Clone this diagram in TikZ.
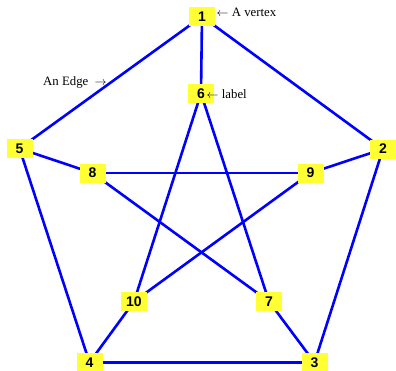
\documentclass[tikz,border=0pt]{standalone}
\usepackage{fontspec}
\setmainfont{Liberation Serif}
\setsansfont{Liberation Sans}
\usetikzlibrary{positioning,backgrounds}
\definecolor{vyellow}{HTML}{FFFF33}
\definecolor{eblue}{HTML}{0000FF}

\begin{document}
\begin{tikzpicture}[x=1pt, y=-1pt,
  vertex/.style={fill=vyellow, minimum width=26pt, minimum height=19pt, inner sep=0pt, font=\sffamily\bfseries\fontsize{14}{14}\selectfont},
  edge/.style={draw=eblue, line width=2.6pt},
  note/.style={font=\fontsize{12.8}{13}\selectfont, inner sep=0pt, anchor=west}]
\useasboundingbox (0,0) rectangle (396,370);
%% outer pentagon, inner star
\node[vertex] (v1) at (202,16.5) {1};
\node[vertex] (v2) at (383,149) {2};
\node[vertex] (v3) at (314.5,362.5) {3};
\node[vertex] (v4) at (89.5,362.5) {4};
\node[vertex] (v5) at (19.5,148.5) {5};
\node[vertex] (v6) at (201,93.5) {6};
\node[vertex] (v7) at (269,301.5) {7};
\node[vertex] (v8) at (92.5,173) {8};
\node[vertex] (v9) at (310.5,173) {9};
\node[vertex] (v10) at (134,301.5) {10};
% edges, under the vertices
\begin{scope}[on background layer]
\foreach \a/\b in {v1/v2,v2/v3,v4/v5,v5/v1,v1/v6,v2/v9,v3/v7,v4/v10,v5/v8,v6/v7,v7/v8,v8/v9,v9/v10,v10/v6}
  \draw[edge] (\a.center) -- (\b.center);
\draw[edge, line width=3.6pt] (v4.center) -- (v3.center);
\end{scope}
% annotations
\node[note] (nvertex) at (216.5,12) {$\leftarrow$ A vertex};
\node[note] (nedge) at (43,82) {An Edge\ \ $\rightarrow$};
\node[note] (nlabel) at (206.5,94) {$\leftarrow$ label};
\end{tikzpicture}
\end{document}
